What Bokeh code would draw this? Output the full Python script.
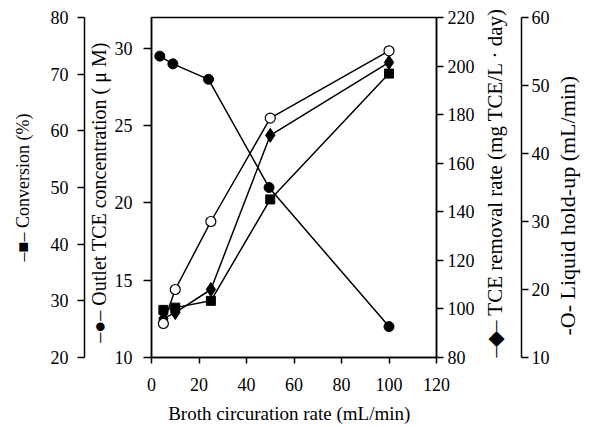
from math import pi
from bokeh.plotting import figure
from bokeh.models import LinearAxis, Range1d, FixedTicker
from bokeh.embed import file_html
from bokeh.resources import INLINE

# ---- data ----
flow = [5, 10, 25, 50, 100]                      # broth circulation rate (mL/min)
conversion = [28.4, 28.8, 30.0, 47.9, 70.1]      # %
conc_flow = [3.5, 9, 24, 49.5, 100]
outlet_tce = [29.5, 29.0, 28.0, 21.0, 12.0]      # uM
removal_rate = [96.0, 98.5, 108.0, 171.5, 201.5] # mg TCE/L.day
holdup = [15.0, 20.0, 30.0, 45.2, 55.1]          # mL/min

x_ticks = [0, 20, 40, 60, 80, 100, 120]
conc_ticks = [10, 15, 20, 25, 30]
conv_ticks = [20, 30, 40, 50, 60, 70, 80]
removal_ticks = [80, 100, 120, 140, 160, 180, 200, 220]
holdup_ticks = [10, 20, 30, 40, 50, 60]

x_title = "Broth  circuration  rate (mL/min)"
conv_title = "\u2013\u25a0\u2013 Conversion (%)"
conc_title = "\u2013\u25cf\u2013 Outlet  TCE  concentration ( \u03bc M)"
removal_title = "\u2013\u25c6\u2013 TCE  removal  rate (mg  TCE/L \u00b7 day)"
holdup_title = "\u00a0\u00a0\u00a0\u00a0-O-   Liquid   hold-up   (mL/min)"

FONT = "Liberation Serif"
TICK_FS = "18px"

p = figure(width=595, height=427, x_range=Range1d(0, 120), y_range=Range1d(10, 32),
           output_backend="svg", toolbar_location=None,
           min_border_left=151, min_border_right=156, min_border_top=17, min_border_bottom=70)
p.extra_y_ranges = {"conv": Range1d(20, 80), "removal": Range1d(80, 220), "holdup": Range1d(10, 60)}
p.xgrid.visible = False
p.ygrid.visible = False
p.outline_line_color = "black"
p.outline_line_width = 1.5
p.background_fill_color = "white"
p.border_fill_color = "white"


def style(ax, ticks, tick_out, standoff, label, label_size, label_standoff, upward=False):
    ax.ticker = FixedTicker(ticks=ticks)
    ax.minor_tick_line_color = None
    ax.major_tick_in = 0
    ax.major_tick_out = tick_out
    ax.major_tick_line_color = "black"
    ax.major_tick_line_width = 1.5
    ax.axis_line_color = "black"
    ax.axis_line_width = 1.5
    ax.major_label_text_font = FONT
    ax.major_label_text_font_size = TICK_FS
    ax.major_label_text_color = "black"
    ax.major_label_standoff = standoff
    ax.axis_label = label
    ax.axis_label_text_font = FONT
    ax.axis_label_text_font_size = label_size
    ax.axis_label_text_font_style = "normal"
    ax.axis_label_text_color = "black"
    ax.axis_label_standoff = label_standoff
    if upward and hasattr(ax, "axis_label_orientation"):
        # right-hand titles read from bottom to top, starting at the bottom of the axis
        ax.axis_label_orientation = pi / 2
        if hasattr(ax, "axis_label_align"):
            ax.axis_label_align = "start"


style(p.xaxis[0], x_ticks, 6, 14, x_title, "19px", 9)
style(p.yaxis[0], conc_ticks, 8, 11, conc_title, "20px", 2)

conv_axis = LinearAxis(y_range_name="conv")
style(conv_axis, conv_ticks, 7, 9, conv_title, "18px", 15)
p.add_layout(conv_axis, "left")

removal_axis = LinearAxis(y_range_name="removal")
style(removal_axis, removal_ticks, 7, 4, removal_title, "21px", 17, upward=True)
p.add_layout(removal_axis, "right")
holdup_axis = LinearAxis(y_range_name="holdup")
style(holdup_axis, holdup_ticks, 7, 3, holdup_title, "22px", 15, upward=True)
p.add_layout(holdup_axis, "right")

LW = 1.5
p.line(conc_flow, outlet_tce, line_color="black", line_width=LW)
p.line(flow, conversion, line_color="black", line_width=LW, y_range_name="conv")
p.line(flow, removal_rate, line_color="black", line_width=LW, y_range_name="removal")
p.line(flow, holdup, line_color="black", line_width=LW, y_range_name="holdup")

p.scatter(conc_flow, outlet_tce, marker="circle", size=10, fill_color="black", line_color="black")
p.scatter(flow, conversion, marker="square", size=9, fill_color="black", line_color="black",
          y_range_name="conv")
p.scatter(flow, removal_rate, marker="diamond", size=14, fill_color="black", line_color="black",
          y_range_name="removal")
p.scatter(flow, holdup, marker="circle", size=10, fill_color="white", line_color="black",
          line_width=1.2, y_range_name="holdup")

open("out.html", "w").write(file_html(p, INLINE))
